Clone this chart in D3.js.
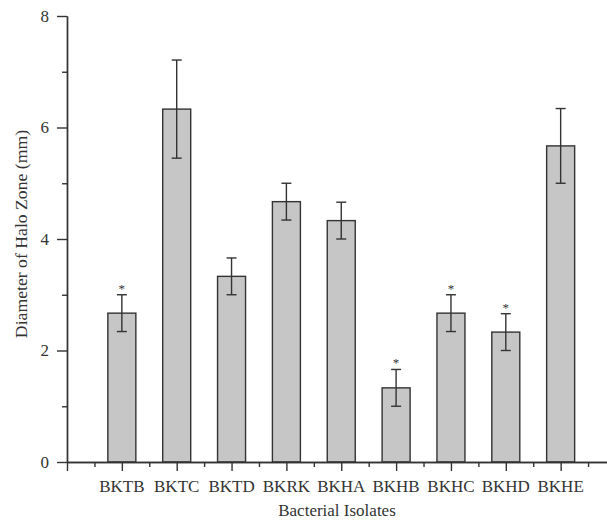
<!DOCTYPE html>
<html>
<head>
<meta charset="utf-8">
<script src="https://cdn.jsdelivr.net/npm/d3@7"></script>
<style>
  body { margin: 0; background: #fff; }
  svg { display: block; }
</style>
</head>
<body>
<script>
var width = 607;
var height = 522;

// data
var categories = ["BKTB", "BKTC", "BKTD", "BKRK", "BKHA", "BKHB", "BKHC", "BKHD", "BKHE"];
var means = [2.67, 6.33, 3.33, 4.67, 4.33, 1.33, 2.67, 2.33, 5.67];
var errors = [0.33, 0.88, 0.33, 0.33, 0.33, 0.33, 0.33, 0.33, 0.67];
var significant = [true, false, false, false, false, true, true, true, false];
var yMajorTicks = [0, 2, 4, 6, 8];
var yMinorTicks = [1, 3, 5, 7];

var plotLeft = 67, plotTop = 16, plotBottom = 462;
var ink = "#333";
var font = "'Liberation Serif', 'Times New Roman', serif";

var svg = d3.select("body").append("svg").attr("width", width).attr("height", height);

var x = d3.scaleLinear().domain([0, 10]).range([plotLeft, plotLeft + 548.5]);
var y = d3.scaleLinear().domain([0, 8]).range([plotBottom, plotTop]);
var barW = 28;

var xMajor = d3.range(0, categories.length + 1);
var xMinor = d3.range(0, categories.length + 1).map(function (d) { return d + 0.5; });

// bars
svg.append("g").selectAll("rect").data(means).enter().append("rect")
    .attr("x", function (d, i) { return x(i + 1) - barW / 2; })
    .attr("y", function (d) { return y(d); })
    .attr("width", barW)
    .attr("height", function (d) { return y(0) - y(d); })
    .attr("fill", "#c6c6c6")
    .attr("stroke", ink)
    .attr("stroke-width", 1.4);

// error bars
var eb = svg.append("g").attr("stroke", ink).attr("stroke-width", 1.4);
means.forEach(function (m, i) {
    var cx = x(i + 1);
    var hi = y(m + errors[i]), lo = y(m - errors[i]);
    eb.append("line").attr("x1", cx).attr("x2", cx).attr("y1", hi).attr("y2", lo);
    eb.append("line").attr("x1", cx - 5).attr("x2", cx + 5).attr("y1", hi).attr("y2", hi);
    eb.append("line").attr("x1", cx - 5).attr("x2", cx + 5).attr("y1", lo).attr("y2", lo);
});

// significance stars
var stars = svg.append("g");
means.forEach(function (m, i) {
    if (!significant[i]) return;
    stars.append("text")
        .attr("x", x(i + 1))
        .attr("y", y(m + errors[i]) - 2)
        .attr("text-anchor", "middle")
        .attr("font-family", font)
        .attr("font-size", "13px")
        .attr("fill", ink)
        .text("*");
});

function styleAxis(g) {
    g.selectAll("path, line").attr("stroke", ink).attr("stroke-width", 1.4);
    g.selectAll("text").attr("font-family", font).attr("fill", ink);
}

// x axis
svg.append("g").attr("transform", "translate(0," + plotBottom + ")")
    .call(d3.axisBottom(x).tickValues(xMajor).tickSize(9).tickSizeOuter(0).tickFormat(""))
    .call(styleAxis);
svg.append("g").attr("transform", "translate(0," + plotBottom + ")")
    .call(d3.axisBottom(x).tickValues(xMinor).tickSize(5).tickSizeOuter(0).tickFormat(""))
    .call(styleAxis);

svg.append("g").selectAll("text").data(categories).enter().append("text")
    .attr("x", function (d, i) { return x(i + 1); })
    .attr("y", 492)
    .attr("text-anchor", "middle")
    .attr("font-family", font)
    .attr("font-size", "17px")
    .attr("fill", ink)
    .text(function (d) { return d; });

// y axis
svg.append("g").attr("transform", "translate(" + plotLeft + ",0)")
    .call(d3.axisLeft(y).tickValues(yMajorTicks).tickSize(10).tickSizeOuter(0).tickPadding(8).tickFormat(d3.format("d")))
    .call(styleAxis)
    .call(function (g) { g.selectAll("text").attr("font-size", "17px"); });
svg.append("g").attr("transform", "translate(" + plotLeft + ",0)")
    .call(d3.axisLeft(y).tickValues(yMinorTicks).tickSize(5).tickSizeOuter(0).tickFormat(""))
    .call(styleAxis);

// axis titles
svg.append("text")
    .attr("x", (plotLeft + width) / 2)
    .attr("y", 516)
    .attr("text-anchor", "middle")
    .attr("font-family", font)
    .attr("font-size", "17px")
    .attr("fill", ink)
    .text("Bacterial Isolates");

svg.append("text")
    .attr("transform", "translate(27,234) rotate(-90)")
    .attr("text-anchor", "middle")
    .attr("font-family", font)
    .attr("font-size", "17.7px")
    .attr("fill", ink)
    .text("Diameter of Halo Zone (mm)");
</script>
</body>
</html>
